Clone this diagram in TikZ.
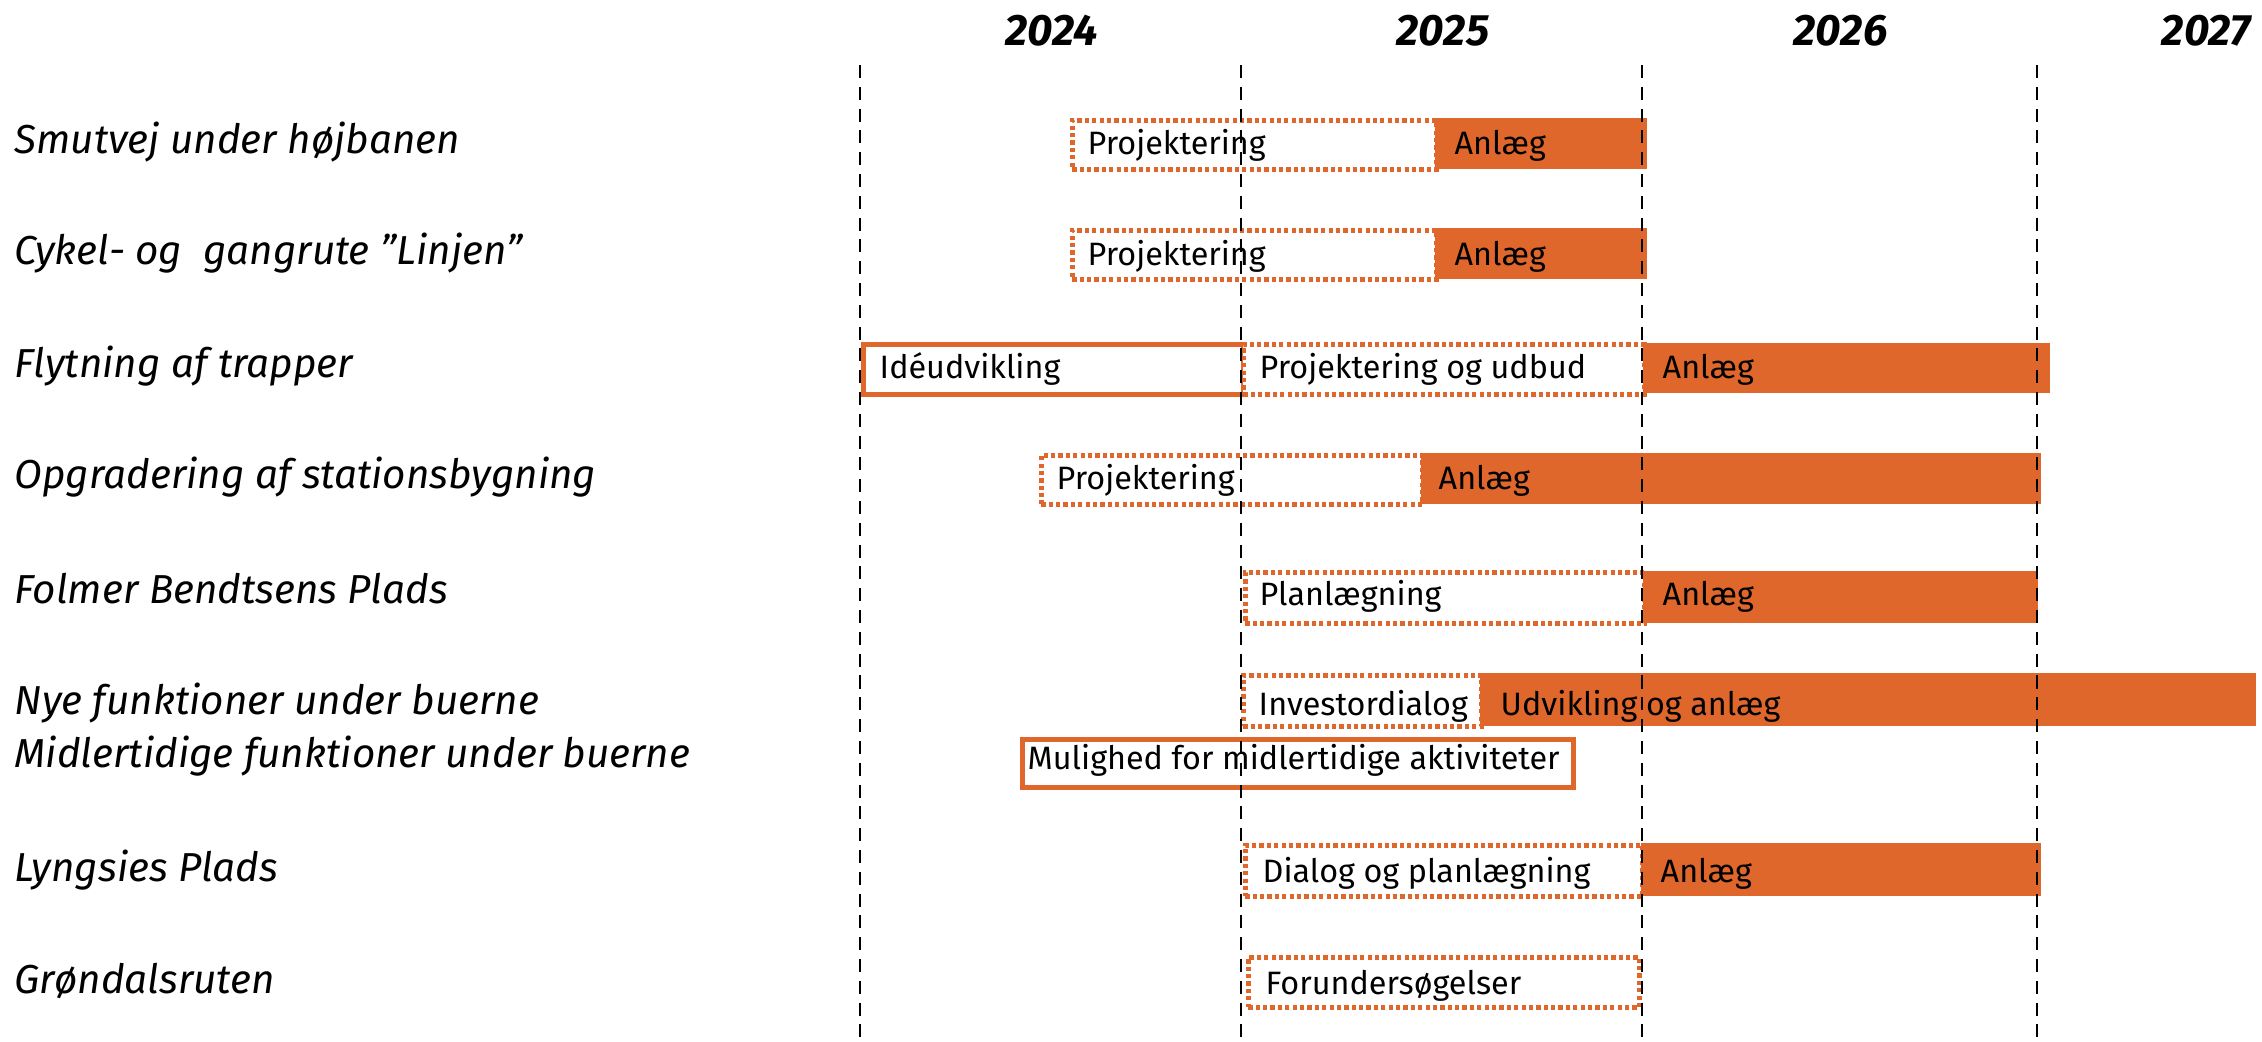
\documentclass[tikz,border=0pt]{standalone}
\usepackage{fontspec}
\setmainfont{Fira Sans}
\definecolor{orng}{RGB}{224,103,44}
\begin{document}
\begin{tikzpicture}[x=0.01cm,y=-0.01cm,
  rowlabel/.style={anchor=base west,inner sep=0,font=\fontsize{11.5}{13}\selectfont\itshape},
  yearlabel/.style={anchor=base west,inner sep=0,font=\fontsize{12.5}{15}\selectfont\bfseries\itshape},
  bartext/.style={anchor=base west,inner sep=0,font=\fontsize{9.2}{11}\selectfont},
  dotbox/.style={draw=orng,line width=1.3pt,dash pattern=on 1.2pt off 0.9pt,fill=white,anchor=north west,inner sep=0},
  solidbox/.style={draw=orng,line width=1.3pt,fill=white,anchor=north west,inner sep=0},
  fillbox/.style={fill=orng,anchor=north west,inner sep=0},
  yearline/.style={draw=black,line width=0.6pt,dash pattern=on 3.7pt off 2.5pt}]
\useasboundingbox (0,0) rectangle (2262,1042);
% years
\node[yearlabel] (y24) at (1005,45) {2024};
\node[yearlabel] (y25) at (1396,45) {2025};
\node[yearlabel] (y26) at (1793,45) {2026};
\node[yearlabel] (y27) at (2161,45) {2027};
% row labels
\node[rowlabel] (l1) at (14,153) {Smutvej under højbanen};
\node[rowlabel] (l2) at (14,264) {Cykel- og\ \ gangrute ”Linjen”};
\node[rowlabel] (l3) at (14,377) {Flytning af trapper};
\node[rowlabel] (l4) at (14,488) {Opgradering af stationsbygning};
\node[rowlabel] (l5) at (14,603) {Folmer Bendtsens Plads};
\node[rowlabel] (l6) at (14,714) {Nye funktioner under buerne};
\node[rowlabel] (l6b) at (14,767) {Midlertidige funktioner under buerne};
\node[rowlabel] (l7) at (14,881) {Lyngsies Plads};
\node[rowlabel] (l8) at (14,993) {Grøndalsruten};
% row 1
\node[dotbox,minimum width=3.64cm,minimum height=0.49cm] (b1a) at (1070,118) {};
\node[fillbox,minimum width=2.12cm,minimum height=0.51cm] (b1b) at (1434,117) {};
\node[bartext] (t1a) at (1087,154) {Projektering};
\node[bartext] (t1b) at (1454,154) {Anlæg};
% row 2
\node[dotbox,minimum width=3.64cm,minimum height=0.49cm] (b2a) at (1070,228) {};
\node[fillbox,minimum width=2.12cm,minimum height=0.51cm] (b2b) at (1434,227) {};
\node[bartext] (t2a) at (1087,265) {Projektering};
\node[bartext] (t2b) at (1454,265) {Anlæg};
% row 3
\node[solidbox,minimum width=3.80cm,minimum height=0.50cm] (b3a) at (861,342) {};
\node[dotbox,minimum width=4.01cm,minimum height=0.50cm] (b3b) at (1241,342) {};
\node[fillbox,minimum width=4.07cm,minimum height=0.50cm] (b3c) at (1642,342) {};
\node[bartext] (t3a) at (879,378) {Idéudvikling};
\node[bartext] (t3b) at (1259,378) {Projektering og udbud};
\node[bartext] (t3c) at (1662,378) {Anlæg};
% row 4
\node[dotbox,minimum width=3.81cm,minimum height=0.49cm] (b4a) at (1039,453) {};
\node[fillbox,minimum width=6.20cm,minimum height=0.51cm] (b4b) at (1420,452) {};
\node[bartext] (t4a) at (1056,489) {Projektering};
\node[bartext] (t4b) at (1438,489) {Anlæg};
% row 5
\node[dotbox,minimum width=3.99cm,minimum height=0.51cm] (b5a) at (1243,570) {};
\node[fillbox,minimum width=3.95cm,minimum height=0.52cm] (b5b) at (1642,570) {};
\node[bartext] (t5a) at (1259,605) {Planlægning};
\node[bartext] (t5b) at (1662,605) {Anlæg};
% row 6
\node[dotbox,minimum width=2.38cm,minimum height=0.51cm] (b6a) at (1241,673) {};
\node[fillbox,minimum width=7.76cm,minimum height=0.53cm] (b6b) at (1479,672) {};
\node[bartext] (t6a) at (1258,715) {Investordialog};
\node[bartext] (t6b) at (1500,715) {Udvikling og anlæg};
% row 6b
\node[solidbox,minimum width=5.51cm,minimum height=0.48cm] (b6c) at (1020,737) {};
\node[bartext] (t6c) at (1027,769) {Mulighed for midlertidige aktiviteter};
% row 7
\node[dotbox,minimum width=3.97cm,minimum height=0.51cm] (b7a) at (1243,843) {};
\node[fillbox,minimum width=4.00cm,minimum height=0.53cm] (b7b) at (1640,842) {};
\node[bartext] (t7a) at (1262,882) {Dialog og planlægning};
\node[bartext] (t7b) at (1660,882) {Anlæg};
% row 8
\node[dotbox,minimum width=3.91cm,minimum height=0.50cm] (b8a) at (1246,955) {};
\node[bartext] (t8a) at (1265,994) {Forundersøgelser};
% year separators
\coordinate (v1t) at (860,65);  \coordinate (v1b) at (860,1042);
\coordinate (v2t) at (1241,65); \coordinate (v2b) at (1241,1042);
\coordinate (v3t) at (1642,65); \coordinate (v3b) at (1642,1042);
\coordinate (v4t) at (2037,65); \coordinate (v4b) at (2037,1042);
\draw[yearline] (v1t) -- (v1b);
\draw[yearline] (v2t) -- (v2b);
\draw[yearline] (v3t) -- (v3b);
\draw[yearline] (v4t) -- (v4b);
\end{tikzpicture}
\end{document}
